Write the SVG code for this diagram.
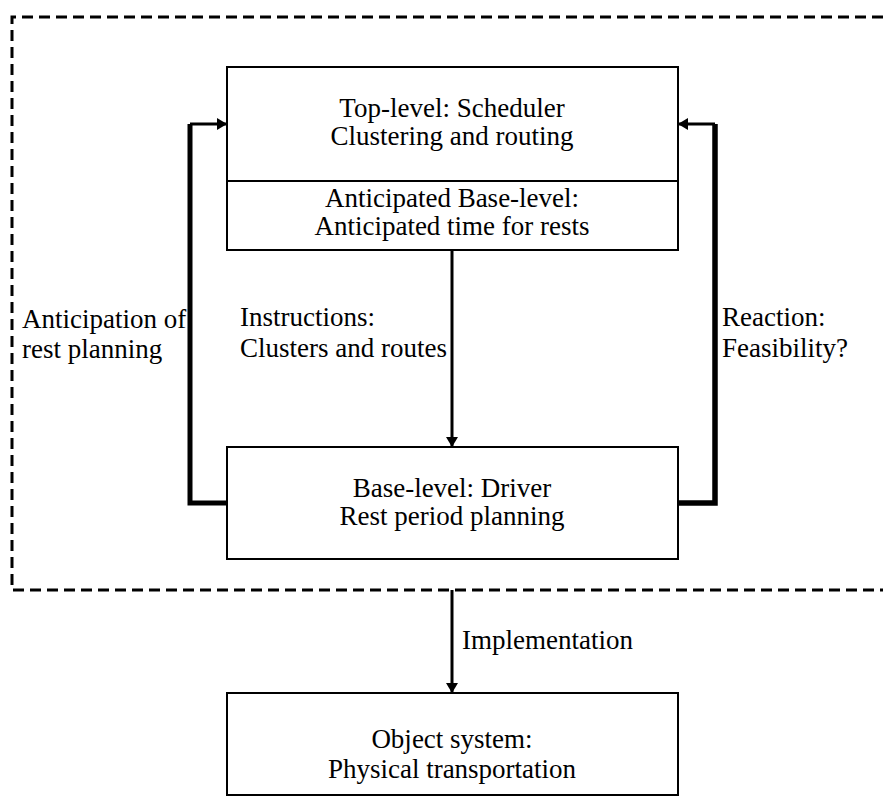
<svg xmlns="http://www.w3.org/2000/svg" width="883" height="800" viewBox="0 0 883 800">
<style>
text{font-family:"Liberation Serif","Times New Roman",serif;font-size:27px;fill:#000}
.c{text-anchor:middle}
.box{fill:#fff;stroke:#000;stroke-width:2}
.ln{fill:none;stroke:#000;stroke-linejoin:miter}
</style>
<defs>
<marker id="ah" viewBox="0 0 10 12" refX="10" refY="6" markerWidth="11" markerHeight="12" markerUnits="userSpaceOnUse" orient="auto">
<path d="M0,0 L10,6 L0,12 Z" fill="#000"/>
</marker>
<marker id="ah2" viewBox="0 0 10 12" refX="10" refY="6" markerWidth="11" markerHeight="12" markerUnits="userSpaceOnUse" orient="auto">
<path d="M0,0 L10,6 L0,12 Z" fill="#000"/>
</marker>
</defs>
<rect width="883" height="800" fill="#fff"/>
<g id="boundary">
<path d="M883,17 H12 V590 H883" fill="none" stroke="#000" stroke-width="3" stroke-dasharray="11 6"/>
</g>
<g id="top">
<rect class="box" x="227" y="67" width="451" height="183"/>
<line x1="227" y1="181" x2="678" y2="181" stroke="#000" stroke-width="2"/>
<text class="c" x="452" y="117">Top-level: Scheduler</text>
<text class="c" x="452" y="145">Clustering and routing</text>
<text class="c" x="452" y="207">Anticipated Base-level:</text>
<text class="c" x="452" y="235">Anticipated time for rests</text>
</g>
<g id="base">
<rect class="box" x="227" y="447" width="451" height="112"/>
<text class="c" x="452" y="497">Base-level: Driver</text>
<text class="c" x="452" y="525">Rest period planning</text>
</g>
<g id="object">
<rect class="box" x="227" y="693" width="451" height="102"/>
<text class="c" x="452" y="748">Object system:</text>
<text class="c" x="452" y="778">Physical transportation</text>
</g>
<g id="connectors">
<path class="ln" d="M227,503 H190 V124" stroke-width="5"/>
<path class="ln" d="M190,124 H227" stroke-width="3" marker-end="url(#ah2)"/>
<path class="ln" d="M678,503 H715 V124" stroke-width="5.5"/>
<path class="ln" d="M715,124 H678" stroke-width="3" marker-end="url(#ah2)"/>
<path class="ln" d="M452,250 V447" stroke-width="3" marker-end="url(#ah)"/>
<path class="ln" d="M452,590 V693" stroke-width="3" marker-end="url(#ah)"/>
</g>
<g id="labels">
<text x="22" y="328">Anticipation of</text>
<text x="22" y="358">rest planning</text>
<text x="240" y="326">Instructions:</text>
<text x="240" y="357">Clusters and routes</text>
<text x="722" y="326">Reaction:</text>
<text x="722" y="357">Feasibility?</text>
<text x="462" y="649">Implementation</text>
</g>
</svg>
